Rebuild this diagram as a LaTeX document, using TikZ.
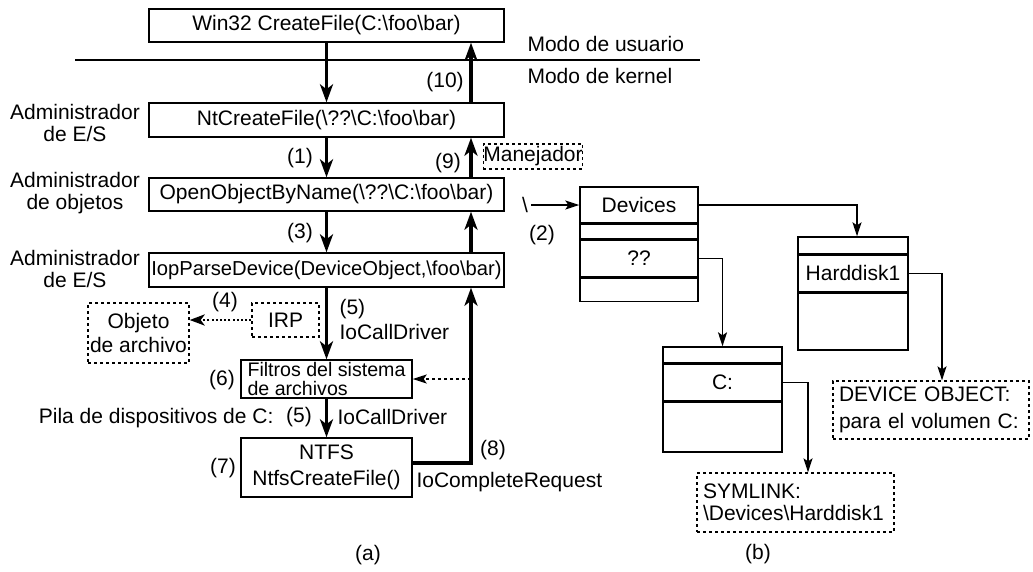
\documentclass[tikz,border=0pt]{standalone}
\usepackage{fontspec}
\setmainfont{Liberation Sans}
\usetikzlibrary{arrows.meta,positioning,calc}

\newcommand{\bsl}{\textbackslash}

\tikzset{
  box/.style={draw,line width=1.4pt,inner sep=0pt,minimum width=355pt,minimum height=34pt},
  dotbox/.style={draw,line width=1.3pt,dash pattern=on 3pt off 3pt,inner sep=0pt},
  cell/.style={draw,line width=1.4pt,inner sep=0pt},
  flow/.style={line width=3.6pt,-{Stealth[length=18pt,width=13pt,inset=5pt]}},
  dotflow/.style={line width=2.8pt,dash pattern=on 2pt off 2.2pt,-{Stealth[length=15pt,width=11pt,inset=4pt]}},
  link/.style={line width=1.4pt,-{Stealth[length=14pt,width=9pt,inset=3pt]}},
  dotlink/.style={line width=1.3pt,dash pattern=on 3pt off 3pt,-{Stealth[length=14pt,width=9pt,inset=3pt]}},
}

\begin{document}
\begin{tikzpicture}[x=1pt,y=-1pt,font=\fontsize{21}{22}\selectfont]
\useasboundingbox (0,0) rectangle (1033,571);

% (a) the call path
\node[box,minimum height=33pt] (win32)    at (326.5,25.5)  {Win32 CreateFile(C:\bsl foo\bsl bar)};
\node[box]                     (ntcreate) at (326.5,120)   {NtCreateFile(\bsl ??\bsl C:\bsl foo\bsl bar)};
\node[box,minimum height=33pt] (openobj)  at (326.5,194.5) {OpenObjectByName(\bsl ??\bsl C:\bsl foo\bsl bar)};
\node[box,font=\fontsize{20.2}{22}\selectfont] (iop) at (326.5,270) {IopParseDevice(DeviceObject,\bsl foo\bsl bar)};
\node[box,minimum width=171pt,minimum height=38pt,align=left,font=\fontsize{19.6}{19}\selectfont] (filtros) at (326.5,379) {Filtros del sistema\\de archivos};
\node[box,minimum width=171pt,minimum height=59pt,align=center,font=\fontsize{21}{26}\selectfont] (ntfs) at (326.5,467.5) {NTFS\\NtfsCreateFile()};
\node[dotbox,minimum width=67pt,minimum height=34pt]  (irp)       at (285.5,320) {IRP};
\node[dotbox,minimum width=101pt,minimum height=60pt,align=center,font=\fontsize{21}{24}\selectfont] (objeto) at (138.5,333) {Objeto\\de archivo};
\node[dotbox,minimum width=94pt,minimum height=25pt]  (manejador) at (533,156.5) {Manejador};

% user / kernel border
\coordinate (modeL) at (75,60);
\coordinate (modeR) at (700,60);
\draw[line width=1.4pt] (modeL) -- (modeR);
\node[anchor=west] (usuario) at (524,44) {Modo de usuario};
\node[anchor=west] (kernel)  at (524,76) {Modo de kernel};

\node[align=center] (admES1) at (75,123) {Administrador\\de E/S};
\node[align=center] (admObj) at (75,193) {Administrador\\de objetos};
\node[align=center] (admES2) at (75,269) {Administrador\\de E/S};

% down
\draw[flow] (win32) -- (ntcreate);
\draw[flow] (ntcreate) -- (openobj);
\draw[flow] (openobj) -- (iop);
\draw[flow] (iop) -- (filtros);
\draw[flow] (filtros) -- (ntfs);
% up
\draw[flow] ([yshift=4.5pt]ntfs.east) -| ([xshift=144.5pt]iop.south);
\draw[flow] ([xshift=144.5pt]iop.north) -- ([xshift=144.5pt]openobj.south);
\draw[flow] ([xshift=144.5pt]openobj.north) -- ([xshift=144.5pt]ntcreate.south);
\draw[flow] ([xshift=144.5pt]ntcreate.north) -- ([xshift=144.5pt]win32.south);
\draw[dotlink] ([xshift=144.5pt]filtros.center) -- (filtros.east);
\draw[dotflow] (irp.west) -- (irp.west -| objeto.east);

\node (s10) at (445,82)  {(10)};
\node (s1)  at (300,158) {(1)};
\node (s9)  at (448,163) {(9)};
\node (s3)  at (300,233) {(3)};
\node (s4)  at (225,302) {(4)};
\node[anchor=west] (s5a) at (336,309) {(5)};
\node[anchor=west] (call1) at (336,332) {IoCallDriver};
\node (s6)  at (222,380) {(6)};
\node (s5b) at (299,417) {(5)};
\node[anchor=west] (call2) at (334,417) {IoCallDriver};
\node[anchor=east] (pila) at (277,418) {Pila de dispositivos de C:};
\node (s7)  at (223,468) {(7)};
\node (s8)  at (493,450) {(8)};
\node[anchor=west] (complete) at (413,482) {IoCompleteRequest};
\node (capa) at (368,555) {(a)};

% (b) the object name space
\node[cell,minimum width=118pt,minimum height=36pt] (devname) at (639,205) {Devices};
\node[cell,minimum width=118pt,minimum height=14pt,below=0pt of devname] (devgap) {};
\node[cell,minimum width=118pt,minimum height=37pt,below=0pt of devgap]  (devqq)  {??};
\node[cell,minimum width=118pt,minimum height=23pt,below=0pt of devqq]   (devend) {};

\node[cell,minimum width=110pt,minimum height=17pt] (hdtop) at (853,245.5) {};
\node[cell,minimum width=110pt,minimum height=36pt,below=0pt of hdtop]  (hdname) {Harddisk1};
\node[cell,minimum width=110pt,minimum height=57pt,below=0pt of hdname] (hdend)  {};

\node[cell,minimum width=119pt,minimum height=16pt] (ctop) at (722.5,355) {};
\node[cell,minimum width=119pt,minimum height=36pt,below=0pt of ctop]  (cname) {C:};
\node[cell,minimum width=119pt,minimum height=50pt,below=0pt of cname] (cend)  {};

\node[dotbox,text width=185pt,inner xsep=6pt,minimum height=59pt,align=left,font=\fontsize{21}{22}\selectfont] (symlink) at (795.5,502.5) {SYMLINK:\\\bsl Devices\bsl Harddisk1};
\node[dotbox,text width=184pt,inner xsep=6pt,minimum height=58pt,align=left,font=\fontsize{21}{27}\selectfont] (devobj) at (931,410) {DEVICE OBJECT:\\para el volumen C:};

\node (root) at (525,205) {\bsl};
\node (s2)   at (542,235) {(2)};
\draw[link] (root) -- (devname);
\draw[link] (devname.east) -| ([xshift=4pt]hdtop.north);
\draw[link] (devqq.east) -| (ctop.north);
\draw[link] (cname.east) -| ([xshift=12.5pt]symlink.north);
\draw[link] (hdname.east) -| ([xshift=11pt]devobj.north);

\node (capb) at (758,554) {(b)};
\end{tikzpicture}
\end{document}
